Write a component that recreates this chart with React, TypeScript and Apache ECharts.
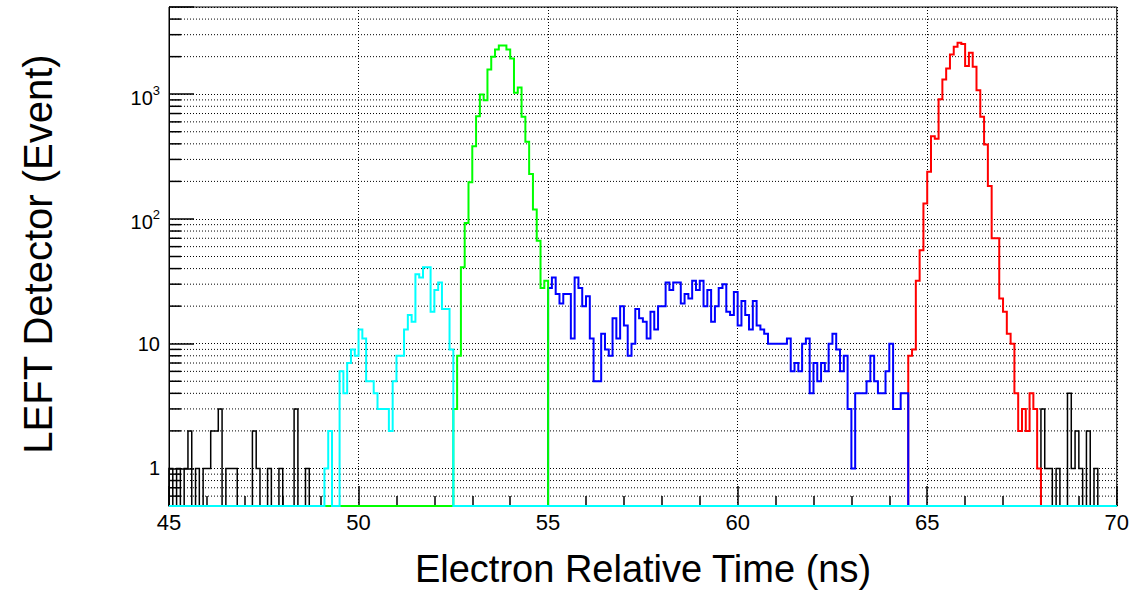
import React, { useEffect, useRef } from 'react';
import * as echarts from 'echarts';

// ---- axis ranges / ticks ----
const X_MIN = 45;
const X_MAX = 70;
const Y_MIN = 0.5;
const Y_MAX = 5000;
const BIN_WIDTH = 0.1;
const X_INTERVAL = 5;
const yMinorTicks = [
  0.6, 0.7, 0.8, 0.9,
  2, 3, 4, 5, 6, 7, 8, 9,
  20, 30, 40, 50, 60, 70, 80, 90,
  200, 300, 400, 500, 600, 700, 800, 900,
  2000, 3000, 4000,
];

// ---- histogram contents (counts per 0.1 ns bin) ----
const blackLeftStart = 45.0;
const blackLeft = [
  1, 0, 1, 0, 1, 2, 0, 1, 0, 1,
  1, 2, 2, 3, 0, 1, 1, 1, 0, 0,
  0, 0, 2, 1, 0, 0, 1, 0, 0, 1,
  0, 0, 0, 3, 0, 0, 1, 0, 0, 0,
];
const blackRightStart = 68.0;
const blackRight = [
  3, 1, 1, 0, 1, 0, 0, 4, 1, 2,
  1, 0, 2, 0, 1, 0, 0, 0, 0, 0,
];

const cyanStart = 49.1;
const cyan = [
  1, 2, 0, 0, 6, 4, 7, 9, 8, 13,
  11, 5, 5, 4, 3, 3, 3, 2, 5, 8,
  8, 13, 17, 15, 36, 34, 41, 41, 18, 27,
  31, 19, 19, 9,
];

const greenStart = 52.5;
const green = [
  3, 8, 41, 93, 197, 383, 667, 995, 896, 1578,
  1995, 2287, 2460, 2460, 2287, 1935, 1025, 1133, 658, 415,
  229, 119, 67, 28, 32,
];

const blueStart = 55.0;
const blue = [
  28, 34, 25, 21, 25, 25, 11, 34, 28, 20,
  24, 11, 5, 5, 12, 9, 8, 16, 11, 20,
  14, 8, 10, 19, 16, 15, 11, 18, 13, 20,
  20, 31, 27, 31, 31, 21, 25, 23, 32, 27,
  32, 20, 27, 15, 20, 28, 30, 18, 17, 26,
  14, 22, 17, 13, 22, 14, 13, 12, 10, 10,
  10, 10, 10, 11, 6, 7, 6, 10, 11, 4,
  7, 5, 7, 6, 10, 12, 9, 6, 8, 3,
  1, 4, 4, 4, 5, 8, 5, 4, 4, 6,
  10, 3, 3, 4, 4,
];

const redStart = 64.5;
const red = [
  8, 9, 32, 56, 133, 239, 460, 440, 912, 1313,
  1607, 2080, 2397, 2583, 2525, 1679, 2146, 1656, 1078, 658,
  395, 184, 70, 70, 23, 18, 12, 10, 4, 2,
  3, 2, 4, 3, 1,
];

const FONT = '"Liberation Sans", Arial, Helvetica, sans-serif';

type Segment = { start: number; values: number[] };

function buildSteps(segments: Segment[]): [number, number][] {
  const pts: [number, number][] = [[X_MIN, Y_MIN]];
  for (const seg of segments) {
    seg.values.forEach((v, i) => {
      const x = Math.round((seg.start + i * BIN_WIDTH) * 1000) / 1000;
      pts.push([x, v > 0 ? v : Y_MIN]);
    });
    const end = Math.round((seg.start + seg.values.length * BIN_WIDTH) * 1000) / 1000;
    pts.push([end, Y_MIN]);
  }
  pts.push([X_MAX, Y_MIN]);
  return pts;
}

function histSeries(name: string, segments: Segment[], color: string, width: number) {
  return {
    name,
    type: 'line',
    step: 'end',
    data: buildSteps(segments),
    symbol: 'none',
    showSymbol: false,
    clip: false,
    silent: true,
    lineStyle: { color, width, join: 'miter' },
  };
}

const dotted = { color: '#000', width: 1, type: [1, 2] as number[] };

export default function App() {
  const ref = useRef<HTMLDivElement>(null);

  useEffect(() => {
    document.body.style.margin = '0';
    if (!ref.current) return;
    const chart = echarts.init(ref.current, undefined, { renderer: 'svg' });

    const option: any = {
      animation: false,
      backgroundColor: '#fff',
      grid: {
        left: 169,
        top: 7,
        width: 948,
        height: 499,
        show: true,
        borderColor: '#000',
        borderWidth: 1,
        backgroundColor: 'transparent',
      },
      xAxis: {
        type: 'value',
        min: X_MIN,
        max: X_MAX,
        interval: X_INTERVAL,
        axisLine: { show: true, lineStyle: { color: '#000', width: 1 } },
        axisTick: { show: true, inside: true, length: 20, lineStyle: { color: '#000', width: 1.5 } },
        minorTick: { show: true, splitNumber: 5, length: 10, lineStyle: { color: '#000', width: 1.5 } },
        splitLine: { show: true, lineStyle: dotted },
        axisLabel: { fontSize: 22, color: '#000', fontFamily: FONT, margin: 5 },
      },
      yAxis: {
        type: 'log',
        logBase: 10,
        min: Y_MIN,
        max: Y_MAX,
        axisLine: { show: true, lineStyle: { color: '#000', width: 1 } },
        axisTick: { show: true, inside: true, length: 25, lineStyle: { color: '#000', width: 1.5 } },
        splitLine: { show: true, lineStyle: dotted },
        axisLabel: {
          margin: 9,
          color: '#000',
          fontSize: 20,
          fontFamily: FONT,
          formatter: (v: number) => {
            const e = Math.log10(v);
            const r = Math.round(e);
            if (Math.abs(e - r) > 1e-6 || r < 0) return '';
            if (r === 0) return '{n|1}';
            if (r === 1) return '{n|10}';
            return '{b|10}{s|' + r + '}';
          },
          rich: {
            n: { fontSize: 20, lineHeight: 20, fontFamily: FONT, color: '#000' },
            b: { fontSize: 20, lineHeight: 20, padding: [7, 0, 0, 0], fontFamily: FONT, color: '#000' },
            s: { fontSize: 13, lineHeight: 21, verticalAlign: 'top', fontFamily: FONT, color: '#000' },
          },
        },
      },
      graphic: [
        {
          type: 'text',
          x: 643,
          y: 569,
          silent: true,
          style: {
            text: 'Electron Relative Time (ns)',
            fontSize: 38,
            fontFamily: FONT,
            fill: '#000',
            align: 'center',
            verticalAlign: 'middle',
          },
        },
        {
          type: 'text',
          x: 38,
          y: 254,
          rotation: Math.PI / 2,
          silent: true,
          style: {
            text: 'LEFT Detector (Event)',
            fontSize: 40,
            fontFamily: FONT,
            fill: '#000',
            align: 'center',
            verticalAlign: 'middle',
          },
        },
      ],
      series: [
        {
          name: 'yMinorGrid',
          type: 'custom',
          silent: true,
          data: yMinorTicks.map((v) => [X_MIN, v]),
          renderItem: (_params: any, api: any) => {
            const v = api.value(1);
            const p0 = api.coord([X_MIN, v]);
            const p1 = api.coord([X_MAX, v]);
            return {
              type: 'group',
              children: [
                {
                  type: 'line',
                  shape: { x1: p0[0], y1: p0[1], x2: p1[0], y2: p1[1] },
                  style: { stroke: '#000', lineWidth: 1, lineDash: [1, 2] },
                },
                {
                  type: 'line',
                  shape: { x1: p0[0], y1: p0[1], x2: p0[0] + 12, y2: p0[1] },
                  style: { stroke: '#000', lineWidth: 1.5 },
                },
              ],
            };
          },
        },
        histSeries('black', [
          { start: blackLeftStart, values: blackLeft },
          { start: blackRightStart, values: blackRight },
        ], '#000000', 1.5),
        histSeries('red', [{ start: redStart, values: red }], '#ff0000', 2),
        histSeries('blue', [{ start: blueStart, values: blue }], '#0000ff', 2),
        histSeries('green', [{ start: greenStart, values: green }], '#00ff00', 2),
        histSeries('cyan', [{ start: cyanStart, values: cyan }], '#00ffff', 2),
      ],
    };

    chart.setOption(option);
    return () => chart.dispose();
  }, []);

  return <div ref={ref} style={{ width: 1132, height: 593 }} />;
}
